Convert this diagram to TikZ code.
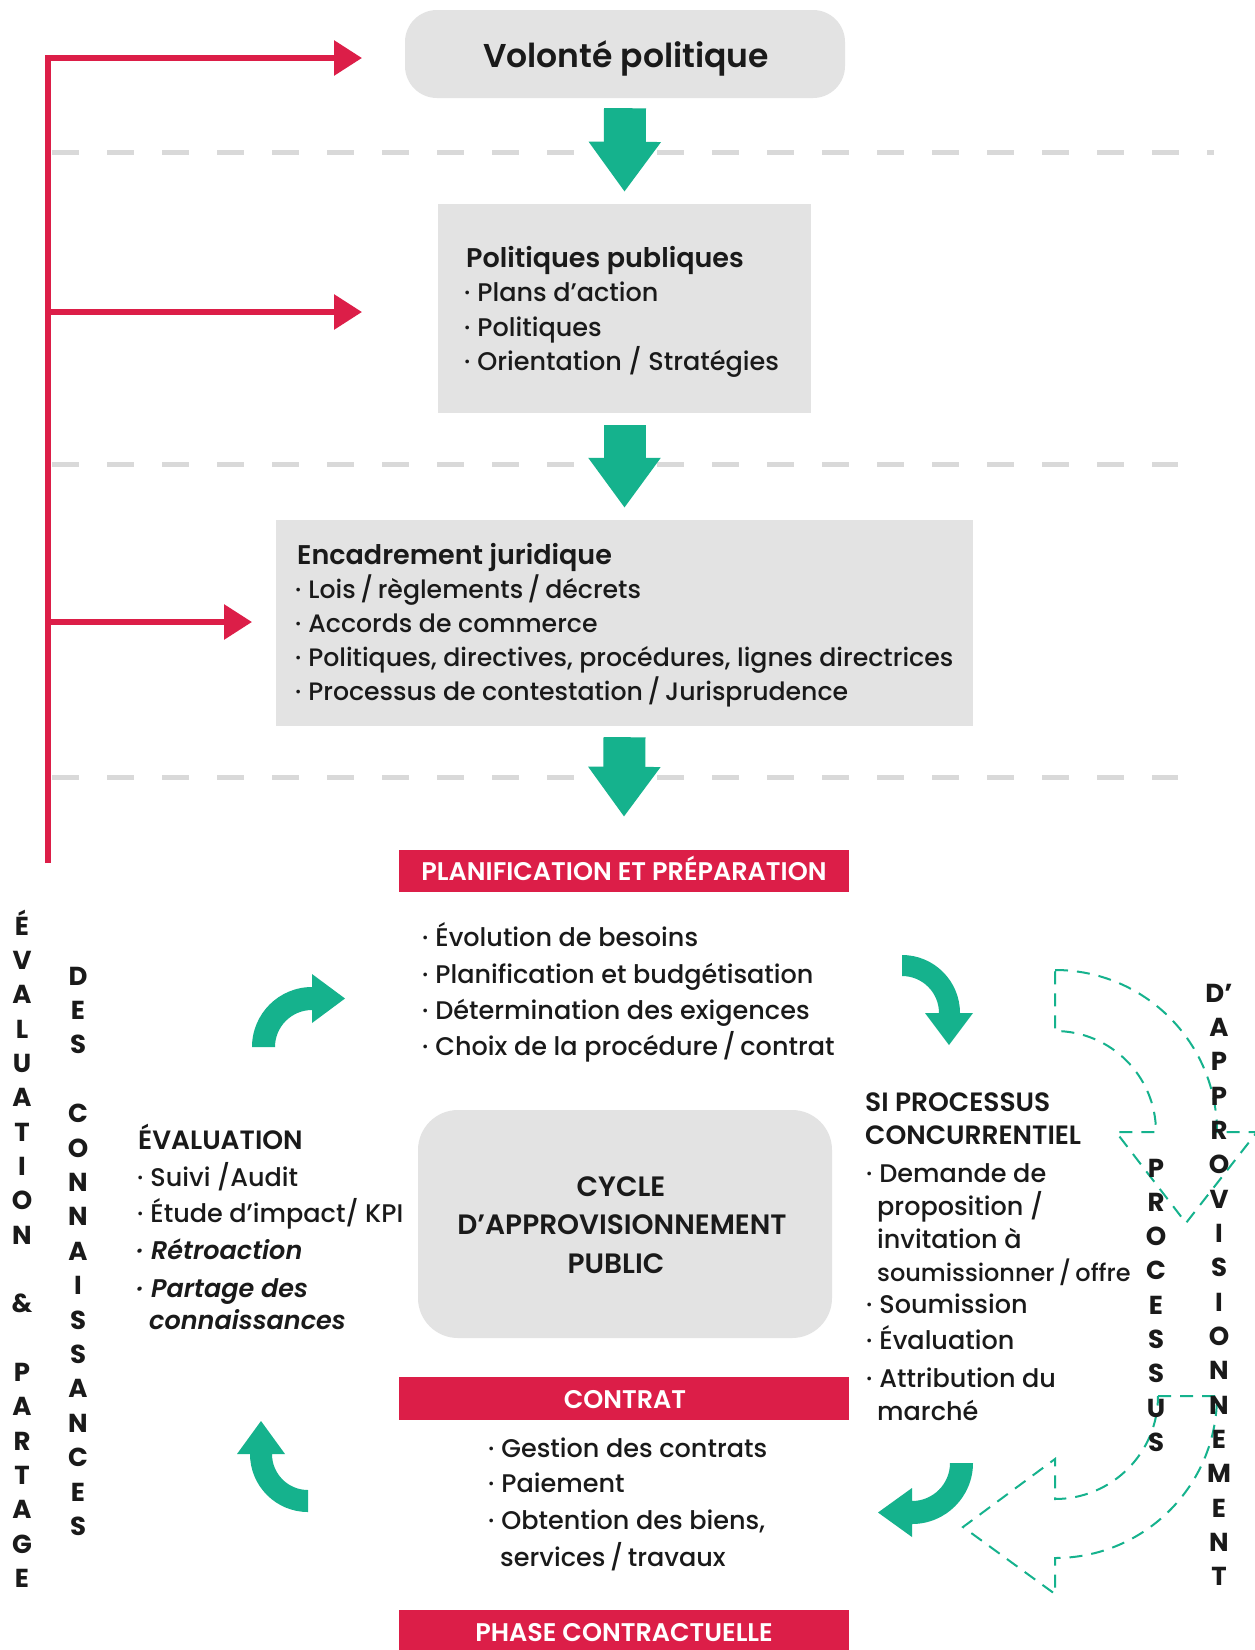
\documentclass[tikz,border=0pt]{standalone}
\usepackage{fontspec}
\setmainfont{Poppins}[UprightFont=* Medium, BoldFont=* SemiBold, ItalicFont=* Medium Italic, BoldItalicFont=* SemiBold Italic]
\newfontfamily\heavyfont{Poppins}[UprightFont=* Bold]
\usetikzlibrary{arrows.meta}
\definecolor{rred}{RGB}{220,30,72}
\definecolor{grn}{RGB}{21,178,141}
\definecolor{boxg}{RGB}{227,227,227}
\definecolor{dashg}{RGB}{217,217,217}
\definecolor{ink}{RGB}{26,26,26}
\newcommand\bul{·\hspace{7pt}}
\newcommand\tsl{\hspace{-2pt}/\hspace{-2pt}}
\begin{document}
\begin{tikzpicture}[x=1pt,y=-1pt,
  txt/.style={anchor=base west,inner sep=0pt,text=ink,font=\fontsize{25.5}{28}\selectfont},
  ttl/.style={anchor=base west,inner sep=0pt,text=ink,font=\fontsize{27}{28}\selectfont\bfseries},
  itl/.style={anchor=base west,inner sep=0pt,text=ink,font=\fontsize{25.5}{28}\selectfont\bfseries\itshape},
  bartxt/.style={anchor=base,inner sep=0pt,text=white,font=\fontsize{25.5}{28}\selectfont\bfseries},
  cyc/.style={anchor=base,inner sep=0pt,text=ink,font=\fontsize{28}{30}\selectfont\bfseries},
  vl/.style={anchor=base,inner sep=0pt,text=ink,font=\fontsize{26}{28}\selectfont\heavyfont},
  gbox/.style={fill=boxg,draw=none,inner sep=0pt},
  rbar/.style={fill=rred,draw=none,inner sep=0pt,minimum width=450pt},
  gar/.style={draw=grn,line width=42pt,-{Triangle[width=69pt,length=50pt]}},
  rar/.style={draw=rred,line width=6pt,line join=miter,-{Triangle[width=34pt,length=28pt]}},
  gdash/.style={draw=dashg,line width=5pt,dash pattern=on 27pt off 28pt},
  tdash/.style={draw=grn,line width=2pt,dash pattern=on 13pt off 9pt,line join=miter},
]
\fill[white] (0,0) rectangle (1254,1650);
\useasboundingbox (0,0) rectangle (1254,1650);

% dashed separators
\draw[gdash] (52,152) -- (1214,152);
\draw[gdash] (52,464) -- (1178,464);
\draw[gdash] (52,777) -- (1178,777);

% top boxes
\node[gbox,rounded corners=32pt,minimum width=440pt,minimum height=88pt] (vol) at (625,54) {};
\node[anchor=base,inner sep=0pt,text=ink,font=\fontsize{33}{36}\selectfont\bfseries] (volt) at (626,67) {Volonté politique};

\node[gbox,minimum width=373pt,minimum height=209pt] (pp) at (624.5,308.5) {};
\node[ttl] (pp0) at (466,267) {Politiques publiques};
\node[txt] (pp1) at (464,301) {\bul Plans d’action};
\node[txt] (pp2) at (464,336) {\bul Politiques};
\node[txt] (pp3) at (464,370) {\bul Orientation / Stratégies};

\node[gbox,minimum width=697pt,minimum height=206pt] (ej) at (624.5,623) {};
\node[ttl] (ej0) at (297,564) {Encadrement juridique};
\node[txt,font=\fontsize{25.2}{28}\selectfont] (ej1) at (295,598) {\bul Lois \tsl{} règlements \tsl{} décrets};
\node[txt,font=\fontsize{25.2}{28}\selectfont] (ej2) at (295,632) {\bul Accords de commerce};
\node[txt,font=\fontsize{25.2}{28}\selectfont] (ej3) at (295,666) {\bul Politiques, directives, procédures, lignes directrices};
\node[txt,font=\fontsize{25.2}{28}\selectfont] (ej4) at (295,700) {\bul Processus de contestation \tsl{} Jurisprudence};

% green straight arrows
\draw[gar] ([yshift=-10pt]vol.south) -- ([yshift=12pt]pp.north);
\draw[gar] ([yshift=-12pt]pp.south) -- ([yshift=12pt]ej.north);

% red feedback line
\coordinate (rbot) at (48,863);
\coordinate (rt1) at (362,58);
\coordinate (rs2) at (48,312);
\coordinate (rt2) at (362,312);
\coordinate (rs3) at (48,622);
\coordinate (rt3) at (252,622);
\draw[rar] (rbot) |- (rt1);
\draw[rar] (rs2) -- (rt2);
\draw[rar] (rs3) -- (rt3);

% bars
\node[rbar,minimum height=42pt] (b1) at (624,871) {};
\node[bartxt] (b1t) at (624,880) {PLANIFICATION ET PRÉPARATION};
\node[rbar,minimum height=43pt] (b2) at (624,1398.5) {};
\node[bartxt] (b2t) at (625,1408) {CONTRAT};
\node[rbar,minimum height=44pt] (b3) at (624,1632) {};
\node[bartxt] (b3t) at (624,1641) {PHASE CONTRACTUELLE};

\draw[gar] ([yshift=-11pt]ej.south) -- ([yshift=33pt]b1.north);

% planning list
\node[txt] (pl1) at (422,946) {\bul Évolution de besoins};
\node[txt] (pl2) at (422,983) {\bul Planification et budgétisation};
\node[txt] (pl3) at (422,1019) {\bul Détermination des exigences};
\node[txt] (pl4) at (422,1055) {\bul Choix de la procédure \tsl{} contrat};

% cycle box
\node[gbox,rounded corners=40pt,minimum width=414pt,minimum height=228pt] (cyc) at (625,1224) {};
\node[cyc] (cy1) at (621,1196) {CYCLE};
\node[cyc] (cy2) at (622,1234) {D’APPROVISIONNEMENT};
\node[cyc] (cy3) at (616,1273) {PUBLIC};

% contract list
\node[txt] (ct1) at (488,1457) {\bul Gestion des contrats};
\node[txt] (ct2) at (488,1492) {\bul Paiement};
\node[txt] (ct3) at (488,1529) {\bul Obtention des biens,};
\node[txt] (ct4) at (500,1566) {services \tsl{} travaux};

% evaluation
\node[ttl,font=\fontsize{26.5}{28}\selectfont\bfseries] (ev0) at (138,1149) {ÉVALUATION};
\node[txt] (ev1) at (137,1186) {\bul Suivi /Audit};
\node[txt] (ev2) at (137,1222) {\bul Étude d’impact/ KPI};
\node[itl] (ev3) at (137,1259) {\bul Rétroaction};
\node[itl] (ev4) at (137,1297) {\bul Partage des};
\node[itl] (ev5) at (149,1329) {connaissances};

% competitive process
\node[ttl,font=\fontsize{26.5}{28}\selectfont\bfseries] (sp0) at (865,1111) {SI PROCESSUS};
\node[ttl,font=\fontsize{26.5}{28}\selectfont\bfseries] (sp1) at (865,1144) {CONCURRENTIEL};
\node[txt] (sp2) at (866,1182) {\bul Demande de};
\node[txt] (sp3) at (877,1215) {proposition /};
\node[txt] (sp4) at (877,1248) {invitation à};
\node[txt,font=\fontsize{24}{28}\selectfont] (sp5) at (877,1281) {soumissionner \tsl{} offre};
\node[txt] (sp6) at (866,1313) {\bul Soumission};
\node[txt] (sp7) at (866,1349) {\bul Évaluation};
\node[txt] (sp8) at (866,1387) {\bul Attribution du};
\node[txt] (sp9) at (877,1420) {marché};

% green curved arrows
\fill[grn] (252,1047) arc[start angle=180,end angle=270,radius=60] -- (312,974) -- (345,998.5) -- (312,1023) -- (312,1010) arc[start angle=270,end angle=180,radius=37] -- cycle;
\fill[grn] (902,955) arc[start angle=270,end angle=360,radius=58] -- (973,1013) -- (949,1045) -- (925,1013) -- (939,1013) arc[start angle=0,end angle=-90,radius=37] -- cycle;
\fill[grn] (973,1463) arc[start angle=0,end angle=90,radius=61] -- (912,1537) -- (878,1512.5) -- (912,1488) -- (912,1501) arc[start angle=90,end angle=0,radius=38] -- cycle;
\fill[grn] (308,1512) arc[start angle=90,end angle=180,radius=58] -- (237,1454) -- (261,1421) -- (285,1454) -- (272,1454) arc[start angle=180,end angle=90,radius=36] -- cycle;

% dashed outline arrows
\draw[tdash] (1055,970) arc[start angle=270,end angle=360,radius=162] -- (1257,1132) -- (1186,1223) -- (1116,1132) -- (1156,1132) arc[start angle=0,end angle=-90,radius=101] -- cycle;
\draw[tdash] (1158,1396) -- (1217,1396) arc[start angle=0,end angle=90,radius=162] -- (1055,1594) -- (963,1527) -- (1055,1459) -- (1055,1499) arc[start angle=90,end angle=0,radius=103] -- cycle;

% vertical letters
\foreach \c [count=\i] in {É,V,A,L,U,A,T,I,O,N,{},\&,{},P,A,R,T,A,G,E}
  \node[vl] (ea\i) at (22,{935+34.35*(\i-1)}) {\c};
\foreach \c [count=\i] in {D,E,S,{},C,O,N,N,A,I,S,S,A,N,C,E,S}
  \node[vl] (dc\i) at (78,{985+34.4*(\i-1)}) {\c};
\foreach \c [count=\i] in {P,R,O,C,E,S,S,U,S}
  \node[vl] (pr\i) at (1156,{1177+34.3*(\i-1)}) {\c};
\foreach \c [count=\i] in {D’,A,P,P,R,O,V,I,S,I,O,N,N,E,M,E,N,T}
  \node[vl] (da\i) at (1219,{1002+34.35*(\i-1)}) {\c};
\end{tikzpicture}
\end{document}
